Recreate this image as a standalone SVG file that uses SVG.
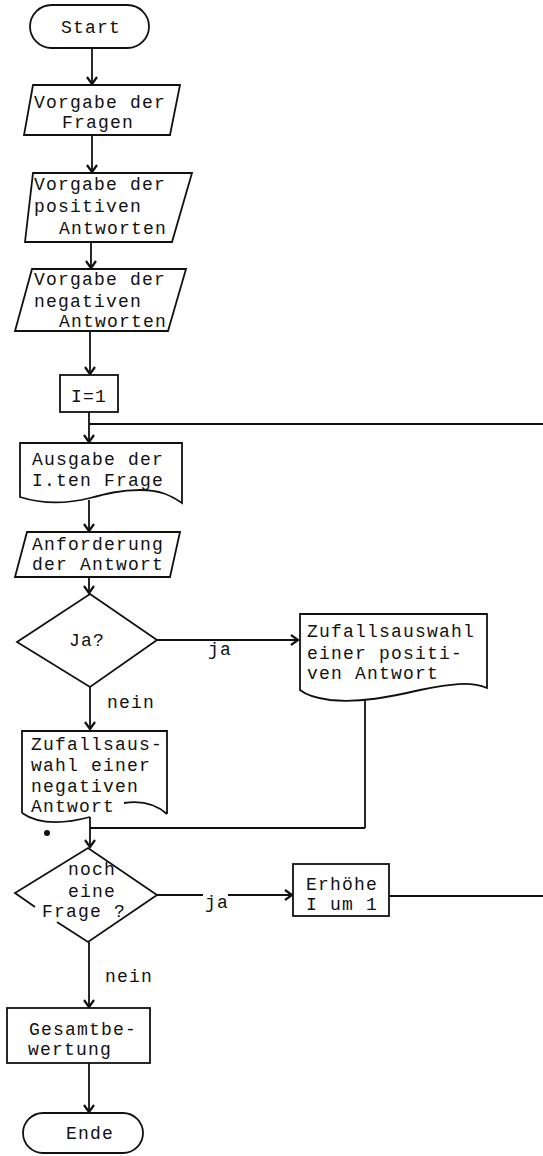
<svg xmlns="http://www.w3.org/2000/svg" width="543" height="1156" viewBox="0 0 543 1156">
  <defs>
    <marker id="arrow" markerUnits="userSpaceOnUse" markerWidth="14" markerHeight="14" refX="0" refY="0" viewBox="-8 -7 10 14" orient="auto" overflow="visible">
      <path d="M-7,-5 L0,0 L-7,5" fill="none" stroke="#111" stroke-width="2.2" stroke-linejoin="miter"/>
    </marker>
    <style>
      .shape { fill: #fff; stroke: #111; stroke-width: 1.8; stroke-linejoin: miter; }
      .edge { fill: none; stroke: #111; stroke-width: 1.8; }
      .wire { fill: none; stroke: #111; stroke-width: 1.8; }
      .arrow { marker-end: url(#arrow); }
      text { font-family: "Liberation Mono", "Courier New", monospace; font-size: 18px; letter-spacing: 1.2px; fill: #111; }
    </style>
  </defs>

  <!-- connectors -->
  <g id="connectors">
    <line class="wire arrow" x1="92" y1="48" x2="92" y2="84"/>
    <line class="wire arrow" x1="92" y1="135" x2="92" y2="172"/>
    <line class="wire arrow" x1="91" y1="242" x2="91" y2="268"/>
    <line class="wire arrow" x1="90" y1="331" x2="90" y2="374"/>
    <line class="wire arrow" x1="89" y1="412" x2="89" y2="442"/>
    <line class="wire" x1="89" y1="424" x2="543" y2="424"/>
    <line class="wire arrow" x1="89" y1="500" x2="89" y2="531"/>
    <line class="wire arrow" x1="89" y1="577" x2="89" y2="593"/>
    <line class="wire arrow" x1="157" y1="640" x2="298" y2="640"/>
    <line class="wire arrow" x1="90" y1="687" x2="90" y2="729"/>
    <line class="wire" x1="365" y1="699" x2="365" y2="828"/>
    <line class="wire" x1="365" y1="828" x2="90" y2="828"/>
    <line class="wire arrow" x1="90" y1="817" x2="90" y2="847"/>
    <line class="wire" x1="157" y1="895" x2="203" y2="895"/>
    <line class="wire arrow" x1="228" y1="895" x2="292" y2="895"/>
    <line class="wire" x1="389" y1="896" x2="543" y2="896"/>
    <line class="wire arrow" x1="89" y1="942" x2="89" y2="1007"/>
    <line class="wire arrow" x1="89" y1="1063" x2="89" y2="1112"/>
    <text x="208" y="655">ja</text>
    <text x="107" y="708">nein</text>
    <text x="205" y="908">ja</text>
    <text x="105" y="982">nein</text>
    <circle cx="47" cy="833" r="3" fill="#111"/>
  </g>

  <g id="start">
    <rect class="shape" x="30" y="5" width="119" height="43" rx="21.5"/>
    <text x="61" y="33">Start</text>
  </g>

  <g id="vorgabe-fragen">
    <polygon class="shape" points="33,85 180,85 170,135 24,135"/>
    <text x="34" y="108">Vorgabe der</text>
    <text x="62" y="128">Fragen</text>
  </g>

  <g id="vorgabe-positiv">
    <polygon class="shape" points="33,173 192,173 172,242 25,242"/>
    <text x="34" y="190">Vorgabe der</text>
    <text x="34" y="212">positiven</text>
    <text x="59" y="234">Antworten</text>
  </g>

  <g id="vorgabe-negativ">
    <polygon class="shape" points="32,269 186,269 168,331 15,331"/>
    <text x="34" y="285">Vorgabe der</text>
    <text x="34" y="307">negativen</text>
    <text x="59" y="327">Antworten</text>
  </g>

  <g id="init">
    <rect class="shape" x="60" y="375" width="58" height="37"/>
    <text x="71" y="402">I=1</text>
  </g>

  <g id="ausgabe-frage">
    <path class="shape" d="M20,443 H182 V503 C170,495 160,490 140,490 C120,490 105,494 90,498 C70,503 45,505 20,497 Z"/>
    <text x="32" y="465">Ausgabe der</text>
    <text x="32" y="486">I.ten Frage</text>
  </g>

  <g id="anforderung">
    <polygon class="shape" points="27,532 180,532 170,577 15,577"/>
    <text x="32" y="550">Anforderung</text>
    <text x="32" y="570">der Antwort</text>
  </g>

  <g id="frage-ja">
    <polygon class="shape" points="90,594 157,640 90,687 17,642"/>
    <text x="69" y="646">Ja?</text>
  </g>

  <g id="positiv-auswahl">
    <path class="shape" d="M300,614 H487 V688 C470,681 450,684 420,690 C390,697 360,703 330,700 C315,698 305,694 300,690 Z"/>
    <text x="307" y="637">Zufallsauswahl</text>
    <text x="307" y="659">einer positi-</text>
    <text x="307" y="679">ven Antwort</text>
  </g>

  <g id="negativ-auswahl">
    <rect x="22" y="731" width="145" height="82" fill="#fff"/>
    <path class="edge" d="M22,813 V731 H167 V814"/>
    <path class="edge" d="M22,813 Q45,829 90,817"/>
    <path class="edge" d="M124,803 Q150,799 167,814"/>
    <text x="31" y="750">Zufallsaus-</text>
    <text x="31" y="771">wahl einer</text>
    <text x="31" y="792">negativen</text>
    <text x="31" y="812">Antwort</text>
  </g>

  <g id="noch-frage">
    <polygon points="88,848 157,895 88,942 15,893" fill="#fff"/>
    <path class="edge" d="M35,907 L15,893 L88,848 L157,895 L88,942 L57,922"/>
    <text x="68" y="875">noch</text>
    <text x="68" y="897">eine</text>
    <text x="42" y="917">Frage ?</text>
  </g>

  <g id="erhoehe">
    <rect class="shape" x="293" y="864" width="96" height="52"/>
    <text x="306" y="890">Erhöhe</text>
    <text x="306" y="910">I um 1</text>
  </g>

  <g id="gesamtbewertung">
    <rect class="shape" x="7" y="1008" width="143" height="55"/>
    <text x="29" y="1035">Gesamtbe-</text>
    <text x="28" y="1055">wertung</text>
  </g>

  <g id="ende">
    <rect class="shape" x="23" y="1113" width="120" height="40" rx="20"/>
    <text x="66" y="1139">Ende</text>
  </g>
</svg>
